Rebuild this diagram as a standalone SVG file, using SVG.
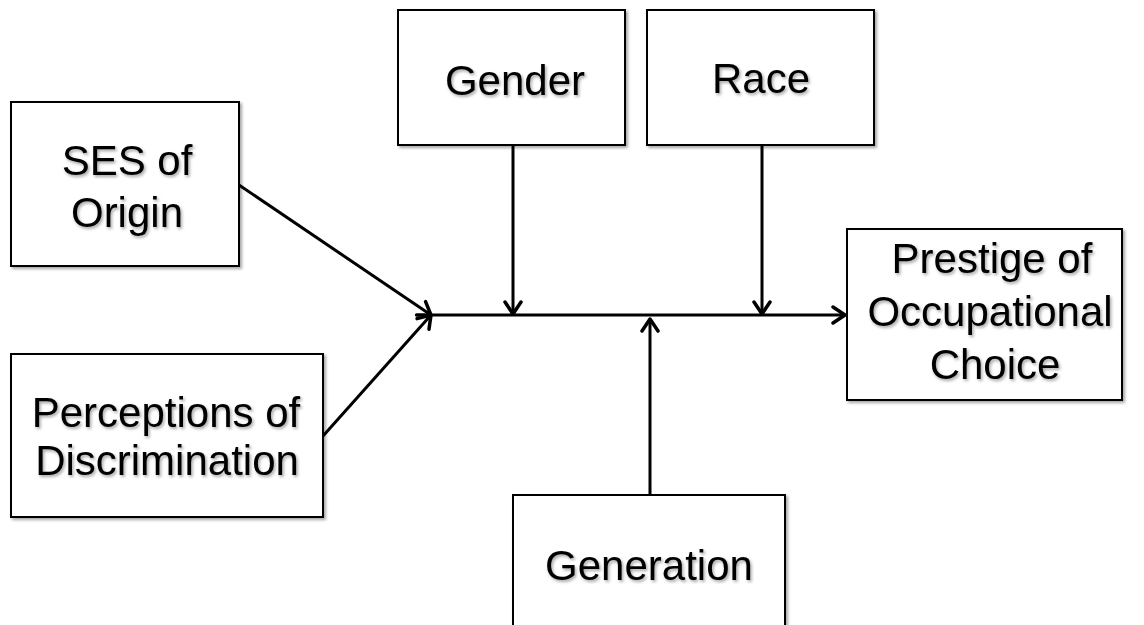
<svg xmlns="http://www.w3.org/2000/svg" width="1144" height="625" viewBox="0 0 1144 625">
<defs>
<style>
.box{fill:#fff;stroke:#000;stroke-width:2;filter:url(#sh)}
.lbl{font-family:"Liberation Sans",Arial,sans-serif;font-size:42px;fill:#000;text-anchor:middle;filter:url(#tsh)}
.con{stroke:#000;stroke-width:3;fill:none;marker-end:url(#ah)}
</style>
<filter id="sh" x="-10%" y="-10%" width="120%" height="120%">
<feDropShadow dx="2" dy="2" stdDeviation="1.5" flood-color="#000" flood-opacity="0.35"/>
</filter>
<filter id="tsh" x="-10%" y="-20%" width="120%" height="140%">
<feDropShadow dx="1.5" dy="2" stdDeviation="1.5" flood-color="#000" flood-opacity="0.35"/>
</filter>
<marker id="ah" markerUnits="userSpaceOnUse" viewBox="0 0 16 20" refX="14" refY="10" markerWidth="16" markerHeight="20" orient="auto">
<path d="M2,2 L14,10 L2,18" fill="none" stroke="#000" stroke-width="3.5" stroke-linecap="round" stroke-linejoin="round"/>
</marker>
</defs>
<rect width="1144" height="625" fill="#fff"/>
<g id="connectors">
<line class="con" x1="432" y1="315" x2="845" y2="315"/>
<line class="con" x1="239" y1="185" x2="431" y2="315"/>
<line class="con" x1="323" y1="436" x2="431" y2="315"/>
<line class="con" x1="513" y1="145" x2="513" y2="314"/>
<line class="con" x1="762" y1="145" x2="762" y2="314"/>
<line class="con" x1="650" y1="495" x2="650" y2="319"/>
</g>
<g id="ses">
<rect class="box" x="11" y="102" width="228" height="164"/>
<text class="lbl" x="127" y="175">SES of</text>
<text class="lbl" x="127" y="227">Origin</text>
</g>
<g id="perceptions">
<rect class="box" x="11" y="354" width="312" height="163"/>
<text class="lbl" x="166" y="427">Perceptions of</text>
<text class="lbl" x="167" y="475">Discrimination</text>
</g>
<g id="gender">
<rect class="box" x="398" y="10" width="227" height="135"/>
<text class="lbl" x="515" y="95">Gender</text>
</g>
<g id="race">
<rect class="box" x="647" y="10" width="227" height="135"/>
<text class="lbl" x="761" y="93">Race</text>
</g>
<g id="prestige">
<rect class="box" x="847" y="229" width="275" height="171"/>
<text class="lbl" x="992" y="273">Prestige of</text>
<text class="lbl" x="990" y="326">Occupational</text>
<text class="lbl" x="995" y="379">Choice</text>
</g>
<g id="generation">
<rect class="box" x="513" y="495" width="272" height="140"/>
<text class="lbl" x="649" y="580">Generation</text>
</g>
</svg>
